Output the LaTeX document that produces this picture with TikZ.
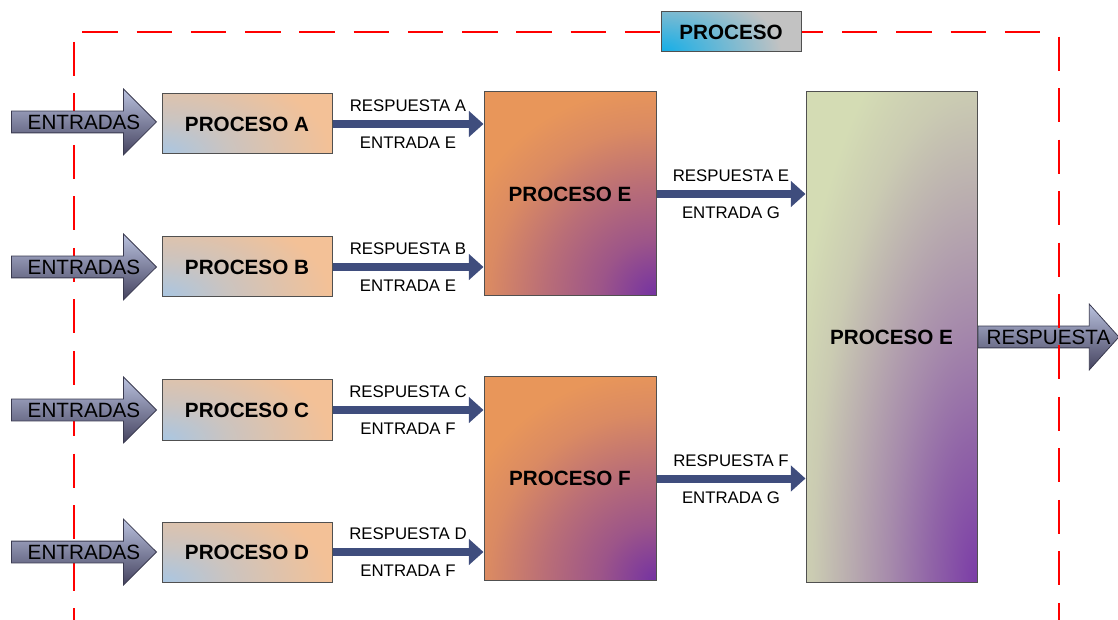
\documentclass[tikz,border=0pt]{standalone}
\usepackage{fontspec}
\setmainfont{Liberation Sans}
\usetikzlibrary{arrows.meta, positioning, calc, shapes.arrows}
\definecolor{procpeach}{HTML}{F3C197}
\definecolor{procblue}{HTML}{A9C6E2}
\definecolor{procorange}{HTML}{E8965A}
\definecolor{procpurple}{HTML}{7432A2}
\definecolor{procgreen}{HTML}{D4DCB4}
\definecolor{proccyan}{HTML}{12AEE8}
\definecolor{procgray}{HTML}{C2C2C2}
\definecolor{arrowtop}{HTML}{B9C1DE}
\definecolor{arrowbot}{HTML}{45435F}
\definecolor{arrowline}{HTML}{3A3A50}
\definecolor{connblue}{HTML}{3F4D7D}
\definecolor{boxline}{HTML}{505050}

% blue corner -> peach
\pgfdeclareradialshading{smallshade}{\pgfpoint{0bp}{0bp}}{%
  color(0bp)=(procblue); color(7bp)=(procblue!55!procpeach);
  color(18bp)=(procpeach); color(50bp)=(procpeach)}
% orange -> purple, from the lower right corner
\pgfdeclareradialshading{midshade}{\pgfpoint{0bp}{0bp}}{%
  color(0bp)=(procpurple); color(4bp)=(procpurple!65!procorange);
  color(8bp)=(procpurple!40!procorange); color(12bp)=(procpurple!12!procorange);
  color(15bp)=(procorange); color(50bp)=(procorange)}
% green -> purple, tall box
\pgfdeclareradialshading{bigshade}{\pgfpoint{0bp}{0bp}}{%
  color(0bp)=(procpurple!95!white); color(4.3bp)=(procpurple!70!procgreen);
  color(7.9bp)=(procpurple!48!procgreen); color(11.5bp)=(procpurple!28!procgreen);
  color(14.8bp)=(procpurple!10!procgreen); color(18bp)=(procgreen);
  color(50bp)=(procgreen)}
% cyan corner -> gray
\pgfdeclareradialshading{titleshade}{\pgfpoint{0bp}{0bp}}{%
  color(0bp)=(proccyan); color(8bp)=(proccyan!55!procgray);
  color(18bp)=(procgray); color(50bp)=(procgray)}

\begin{document}
\begin{tikzpicture}[x=0.75pt, y=-0.75pt,
    bigfont/.style={font=\fontsize{15.5}{18}\selectfont\bfseries},
    smallbox/.style={draw=boxline, line width=0.75pt, bigfont, fill=procpeach,
      minimum width=127.5pt, minimum height=45pt, inner sep=0pt,
      path picture={\shade[shading=smallshade]
        (path picture bounding box.south west) ellipse [x radius=175pt, y radius=95pt];}},
    midbox/.style={draw=boxline, line width=0.75pt, bigfont, fill=procorange,
      minimum width=129pt, minimum height=153pt, inner sep=0pt,
      path picture={\shade[shading=midshade]
        (path picture bounding box.south east) circle (262pt);}},
    bigbox/.style={draw=boxline, line width=0.75pt, bigfont, fill=procgreen,
      minimum width=128.25pt, minimum height=367.5pt, inner sep=0pt,
      path picture={\shade[shading=bigshade]
        (path picture bounding box.south east) ellipse [x radius=208pt, y radius=620pt];}},
    titlebox/.style={draw=boxline, line width=0.75pt, bigfont, fill=procgray,
      minimum width=105pt, minimum height=30pt, inner sep=0pt,
      path picture={\shade[shading=titleshade]
        (path picture bounding box.south west) ellipse [x radius=125pt, y radius=70pt];}},
    blockarrow/.style={single arrow, draw=arrowline, line width=0.6pt,
      top color=arrowtop, bottom color=arrowbot,
      inner xsep=0pt, inner ysep=7.875pt, single arrow head indent=0pt,
      single arrow head extend=16.5pt},
    arrowtext/.style={font=\fontsize{15.5}{18}\selectfont, inner sep=0pt},
    conn/.style={-{Triangle[length=11pt, width=19pt]}, line width=6pt, connblue},
    lbl/.style={font=\fontsize{12.6}{15}\selectfont, inner sep=0pt, text=black},
    frame/.style={red, line width=1.5pt}]

  \useasboundingbox (0,0) rectangle (1118,620);

  % process boxes
  \node[smallbox] (procA) at (247,124) {PROCESO A};
  \node[smallbox] (procB) at (247,267) {PROCESO B};
  \node[smallbox] (procC) at (247,410) {PROCESO C};
  \node[smallbox] (procD) at (247,552) {PROCESO D};
  \node[midbox] (procE) at (570,194) {PROCESO E};
  \node[midbox] (procF) at (570,478.5) {PROCESO F};
  \node[bigbox] (procG) at (891.5,337) {PROCESO E};

  % connectors
  \draw[conn] (procA) -- (procA -| procE.west)
    node[lbl, midway, above=6.25pt] (rA) {RESPUESTA A}
    node[lbl, midway, below=6.75pt] (eA) {ENTRADA E};
  \draw[conn] (procB) -- (procB -| procE.west)
    node[lbl, midway, above=6.25pt] (rB) {RESPUESTA B}
    node[lbl, midway, below=6.75pt] (eB) {ENTRADA E};
  \draw[conn] (procC) -- (procC -| procF.west)
    node[lbl, midway, above=6.25pt] (rC) {RESPUESTA C}
    node[lbl, midway, below=6.75pt] (eC) {ENTRADA F};
  \draw[conn] (procD) -- (procD -| procF.west)
    node[lbl, midway, above=6.25pt] (rD) {RESPUESTA D}
    node[lbl, midway, below=6.75pt] (eD) {ENTRADA F};
  \draw[conn] (procE) -- (procE -| procG.west)
    node[lbl, midway, above=6.25pt] (rE) {RESPUESTA E}
    node[lbl, midway, below=6.75pt] (eE) {ENTRADA G};
  \draw[conn] (procF) -- (procF -| procG.west)
    node[lbl, midway, above=6.25pt] (rF) {RESPUESTA F}
    node[lbl, midway, below=6.75pt] (eF) {ENTRADA G};

  % output
  \node[blockarrow, single arrow tip angle=96, minimum height=105.75pt,
        anchor=tail] (outArr) at (procG.east) {};
  \node[arrowtext] (outTxt) at ($(outArr.tail)!0.5!(outArr.tip)$) {RESPUESTA};

  % dashed frame
  \draw[frame, dash pattern=on 26.6pt off 14.1pt, dash phase=34.5pt] (74,32) -- (1059,32);
  \draw[frame, dash pattern=on 25.5pt off 13.1pt, dash phase=31.1pt] (74,32) -- (74,640);
  \draw[frame, dash pattern=on 25.5pt off 13.1pt, dash phase=35.1pt] (1059,32) -- (1059,640);

  % inputs
  \node[blockarrow, minimum height=108.75pt, anchor=tip] (inA) at (157,122) {};
  \node[blockarrow, minimum height=108.75pt, anchor=tip] (inB) at (157,267) {};
  \node[blockarrow, minimum height=108.75pt, anchor=tip] (inC) at (157,410) {};
  \node[blockarrow, minimum height=108.75pt, anchor=tip] (inD) at (157,552) {};
  \node[arrowtext] (txtA) at ($(inA.tail)!0.5!(inA.tip)$) {ENTRADAS};
  \node[arrowtext] (txtB) at ($(inB.tail)!0.5!(inB.tip)$) {ENTRADAS};
  \node[arrowtext] (txtC) at ($(inC.tail)!0.5!(inC.tip)$) {ENTRADAS};
  \node[arrowtext] (txtD) at ($(inD.tail)!0.5!(inD.tip)$) {ENTRADAS};

  \node[titlebox] (title) at (731,32) {PROCESO};
\end{tikzpicture}
\end{document}
